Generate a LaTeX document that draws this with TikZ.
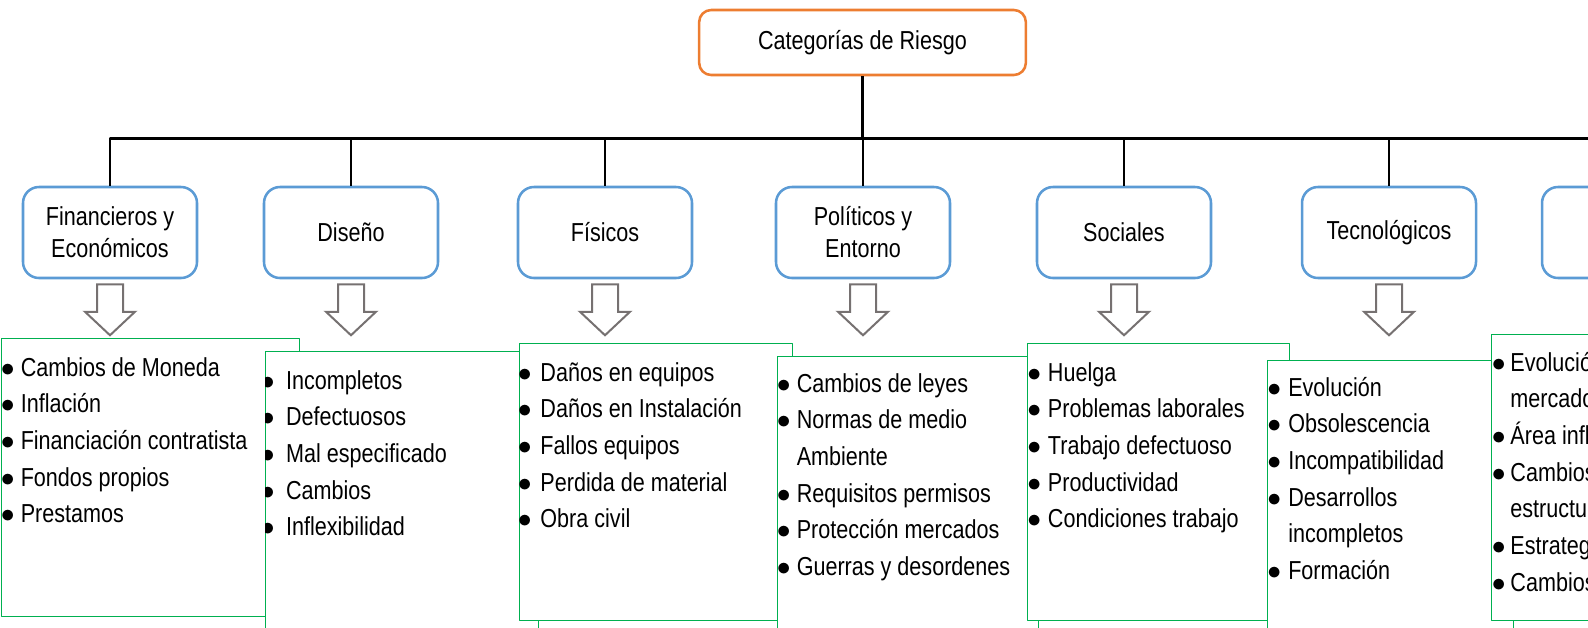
\documentclass[tikz,border=0pt]{standalone}
\usepackage{fontspec}
\setmainfont{Liberation Sans}[FakeStretch=0.83]
\usetikzlibrary{calc}
\definecolor{catblue}{RGB}{91,155,213}
\definecolor{rootorange}{RGB}{237,125,49}
\definecolor{listgreen}{RGB}{0,176,80}
\definecolor{arrowgray}{RGB}{118,113,113}
\newcommand{\listfont}{\fontsize{19.5pt}{27.5pt}\selectfont}
\newcommand{\catfont}{\fontsize{19.5pt}{24pt}\selectfont}
\newcommand{\itm}[2]{\makebox[#1][l]{$\bullet$}#2}
\newcommand{\cnt}[2]{\hspace*{#1}#2}
\newcommand{\topln}{\rule{0pt}{16pt}}

\begin{document}
\begin{tikzpicture}[x=0.75pt, y=-0.75pt, line join=round,
    root/.style={draw=rootorange, line width=1.9pt, rounded corners=9pt, fill=white, minimum width=245pt, minimum height=48.75pt, font=\catfont},
    cat/.style={draw=catblue, line width=1.9pt, rounded corners=12pt, fill=white, minimum width=130.5pt, minimum height=68.25pt, align=center, font=\catfont},
    listbox/.style={draw=listgreen, line width=1.1pt, fill=white, anchor=north west, inner sep=0pt},
    listtext/.style={anchor=north west, inner sep=0pt, align=left, font=\listfont},
    busline/.style={line width=1.6pt},
    blockarrow/.style={draw=arrowgray, line width=1.5pt, fill=white, line join=miter}]
    %Canvas
    \useasboundingbox (0,0) rectangle (1588,628);
    \clip (0,0) rectangle (1588,628);

    %Root
    \node[root] (root) at (862.5,42.5) {Categorías de Riesgo};
    \coordinate (bus) at (0,138.5);

        %Categories
    \node[cat] (fin) at (110,232.5) {Financieros y\\Económicos};
    \node[cat] (dis) at (351,232.5) {Diseño};
    \node[cat] (fis) at (605,232.5) {Físicos};
    \node[cat] (pol) at (863,232.5) {Políticos y\\Entorno};
    \node[cat] (soc) at (1124,232.5) {Sociales};
    \node[cat] (tec) at (1389,232.5) {Tecnológicos};
    \node[cat] (otr) at (1629,232.5) {};

        %Tree Lines
    \foreach \n in {fin,dis,fis,pol,soc,tec,otr}
        \draw[busline] (root.south) -- (root.south |- bus) -| (\n.north);

        %Block Arrows
    \foreach \n in {fin,dis,fis,pol,soc,tec,otr}
        \draw[blockarrow, shift={(\n.south)}] (-13,5) -- (13,5) -- (13,32.5) -- (25,32.5) -- (0,56) -- (-25,32.5) -- (-13,32.5) -- cycle;

    %Lists
        %Financieros
    \node[listbox, minimum width=223.5pt, minimum height=208.5pt] (l1) at (0.7,338) {};
    \node[listtext] (t1) at (0.5,354.7) {\topln\itm{15pt}{Cambios de Moneda}\\
        \itm{15pt}{Inflación}\\
        \itm{15pt}{Financiación contratista}\\
        \itm{15pt}{Fondos propios}\\
        \itm{15pt}{Prestamos}};

        %Diseño (bullets cut by the box edge)
    \node[listbox, minimum width=204.75pt, minimum height=247.5pt] (l2) at (265,351) {};
    \begin{scope}
        \clip (l2.north west) rectangle (l2.south east);
        \node[listtext] (t2) at (260.5,367.7) {\topln\itm{19pt}{Incompletos}\\
            \itm{19pt}{Defectuosos}\\
            \itm{19pt}{Mal especificado}\\
            \itm{19pt}{Cambios}\\
            \itm{19pt}{Inflexibilidad}};
    \end{scope}

        %Físicos
    \node[listbox, minimum width=204.75pt, minimum height=207.75pt] (l3) at (519,343) {};
    \node[listtext] (t3) at (517.5,359.7) {\topln\itm{17pt}{Daños en equipos}\\
        \itm{17pt}{Daños en Instalación}\\
        \itm{17pt}{Fallos equipos}\\
        \itm{17pt}{Perdida de material}\\
        \itm{17pt}{Obra civil}};

        %Políticos
    \node[listbox, minimum width=195.75pt, minimum height=247.5pt] (l4) at (777,356) {};
    \node[listtext] (t4) at (776.5,370.7) {\topln\itm{15pt}{Cambios de leyes}\\
        \itm{15pt}{Normas de medio}\\
        \cnt{15pt}{Ambiente}\\
        \itm{15pt}{Requisitos permisos}\\
        \itm{15pt}{Protección mercados}\\
        \itm{15pt}{Guerras y desordenes}};

        %Sociales
    \node[listbox, minimum width=196.5pt, minimum height=207.75pt] (l5) at (1027,343) {};
    \node[listtext] (t5) at (1027,359.7) {\topln\itm{15.5pt}{Huelga}\\
        \itm{15.5pt}{Problemas laborales}\\
        \itm{15.5pt}{Trabajo defectuoso}\\
        \itm{15.5pt}{Productividad}\\
        \itm{15.5pt}{Condiciones trabajo}};

        %Tecnológicos
    \node[listbox, minimum width=184.5pt, minimum height=247.5pt] (l6) at (1267,360) {};
    \node[listtext] (t6) at (1267,374.7) {\topln\itm{15.75pt}{Evolución}\\
        \itm{15.75pt}{Obsolescencia}\\
        \itm{15.75pt}{Incompatibilidad}\\
        \itm{15.75pt}{Desarrollos}\\
        \cnt{15.75pt}{incompletos}\\
        \itm{15.75pt}{Formación}};

        %Last column
    \node[listbox, minimum width=225pt, minimum height=214.5pt] (l7) at (1491,334) {};
    \node[listtext] (t7) at (1491.5,349.7) {\topln\itm{14pt}{Evolución del}\\
        \cnt{14pt}{mercado}\\
        \itm{14pt}{Área influencia}\\
        \itm{14pt}{Cambios}\\
        \cnt{14pt}{estructura}\\
        \itm{14pt}{Estrategia}\\
        \itm{14pt}{Cambios}};
\end{tikzpicture}
\end{document}
